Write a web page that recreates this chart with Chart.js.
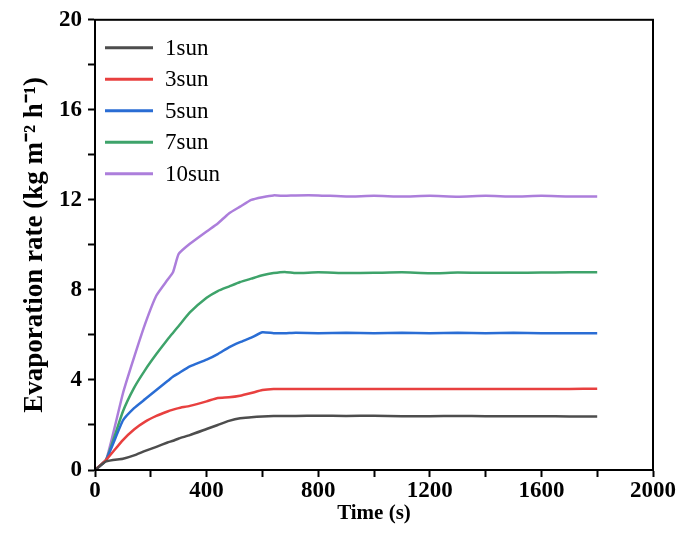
<!DOCTYPE html>
<html>
<head>
<meta charset="utf-8">
<script src="https://cdn.jsdelivr.net/npm/chart.js@4"></script>
<style>
  html, body { margin: 0; padding: 0; background: #fff; }
  #wrap { width: 684px; height: 547px; }
</style>
</head>
<body>
<div id="wrap"><canvas id="evapChart" width="684" height="547"></canvas></div>
<script>
// Time axis (s), shared by all curves
const times = [0, 40, 100, 140, 180, 220, 260, 280, 300, 340, 400, 440, 480, 520, 560, 600, 640, 680, 720,
               800, 900, 1000, 1100, 1200, 1300, 1400, 1500, 1600, 1700, 1800];

const sun1 = [0, 0.38, 0.5, 0.65, 0.85, 1.03, 1.22, 1.3, 1.4, 1.55, 1.82, 2.0, 2.18, 2.3, 2.34, 2.38, 2.4, 2.4, 2.4,
              2.41, 2.4, 2.41, 2.39, 2.39, 2.4, 2.39, 2.39, 2.39, 2.38, 2.38];
const sun3 = [0, 0.45, 1.33, 1.8, 2.15, 2.4, 2.6, 2.68, 2.75, 2.85, 3.05, 3.2, 3.23, 3.3, 3.42, 3.55, 3.6, 3.6, 3.6,
              3.6, 3.6, 3.6, 3.6, 3.6, 3.6, 3.6, 3.6, 3.6, 3.6, 3.61];
const sun5 = [0, 0.45, 2.2, 2.75, 3.15, 3.55, 3.95, 4.15, 4.3, 4.6, 4.9, 5.15, 5.45, 5.68, 5.88, 6.12, 6.08, 6.08, 6.1,
              6.08, 6.1, 6.08, 6.1, 6.08, 6.1, 6.08, 6.1, 6.08, 6.08, 6.08];
const sun7 = [0, 0.45, 2.6, 3.65, 4.45, 5.15, 5.8, 6.1, 6.4, 7.0, 7.65, 7.95, 8.15, 8.35, 8.5, 8.65, 8.75, 8.8, 8.75,
              8.78, 8.75, 8.76, 8.78, 8.74, 8.77, 8.76, 8.76, 8.77, 8.78, 8.78];
const sun10 = [0, 0.45, 3.4, 5.0, 6.5, 7.75, 8.45, 8.8, 9.6, 10.05, 10.6, 10.95, 11.4, 11.7, 12.0, 12.12, 12.2, 12.18, 12.2,
               12.2, 12.15, 12.18, 12.15, 12.18, 12.14, 12.18, 12.15, 12.18, 12.15, 12.15];

const seriesLabels = ['1sun', '3sun', '5sun', '7sun', '10sun'];
const seriesColors = ['#4d4d4d', '#e8403f', '#2a6dd4', '#3ea36a', '#ac7edb'];
const seriesValues = [sun1, sun3, sun5, sun7, sun10];

const xTicks = [0, 400, 800, 1200, 1600, 2000];
const yTicks = [0, 4, 8, 12, 16, 20];

const serif = "'Liberation Serif', 'Times New Roman', serif";

// box around the plot area
const frame = {
    id: 'frame',
    afterDraw(chart) {
        const a = chart.chartArea, ctx = chart.ctx;
        ctx.save();
        ctx.strokeStyle = '#000';
        ctx.lineWidth = 2;
        ctx.strokeRect(a.left, a.top, a.right - a.left, a.bottom - a.top);
        ctx.restore();
    }
};

// legend drawn inside the plot, top-left
const insideLegend = {
    id: 'insideLegend',
    afterDraw(chart) {
        const a = chart.chartArea, ctx = chart.ctx;
        ctx.save();
        ctx.font = '23px ' + serif;
        ctx.textBaseline = 'middle';
        chart.data.datasets.forEach((ds, i) => {
            const y = a.top + 28 + i * 31.5;
            const x0 = a.left + 10;
            ctx.strokeStyle = ds.borderColor;
            ctx.lineWidth = 3;
            ctx.beginPath();
            ctx.moveTo(x0, y);
            ctx.lineTo(x0 + 48, y);
            ctx.stroke();
            ctx.fillStyle = '#000';
            ctx.fillText(ds.label, x0 + 60, y + 1);
        });
        ctx.restore();
    }
};

new Chart(document.getElementById('evapChart'), {
    type: 'line',
    data: {
        datasets: seriesLabels.map((label, i) => ({
            label: label,
            data: times.map((t, j) => ({ x: t, y: seriesValues[i][j] })),
            borderColor: seriesColors[i],
            borderWidth: 2.5,
            pointRadius: 0,
            tension: 0.15,
            fill: false
        }))
    },
    options: {
        responsive: false,
        animation: false,
        layout: { padding: { top: 19, right: 31, left: 19, bottom: 21 } },
        plugins: {
            legend: { display: false },
            tooltip: { enabled: false }
        },
        scales: {
            x: {
                type: 'linear',
                min: 0,
                max: 2000,
                afterFit(scale) { scale.height = 56; },
                afterBuildTicks(scale) {
                    const t = [];
                    for (let v = 0; v <= 2000; v += 200) t.push({ value: v });
                    scale.ticks = t;
                },
                ticks: {
                    color: '#000',
                    padding: 0,
                    maxRotation: 0,
                    autoSkip: false,
                    font: { family: serif, size: 23, weight: 'bold' },
                    callback: v => xTicks.includes(v) ? String(v) : ''
                },
                grid: {
                    drawOnChartArea: false,
                    tickLength: 7,
                    tickColor: '#000',
                    tickWidth: 2
                },
                border: { color: '#000', width: 2 },
                title: {
                    display: true,
                    text: 'Time (s)',
                    color: '#000',
                    padding: { top: 0, bottom: 0 },
                    font: { family: serif, size: 21, weight: 'bold' }
                }
            },
            y: {
                min: 0,
                max: 20,
                afterFit(scale) { scale.width = 76; },
                afterBuildTicks(scale) {
                    const t = [];
                    for (let v = 0; v <= 20; v += 2) t.push({ value: v });
                    scale.ticks = t;
                },
                ticks: {
                    color: '#000',
                    padding: 6,
                    autoSkip: false,
                    font: { family: serif, size: 23, weight: 'bold' },
                    callback: v => yTicks.includes(v) ? String(v) : ''
                },
                grid: {
                    drawOnChartArea: false,
                    tickLength: 7,
                    tickColor: '#000',
                    tickWidth: 2
                },
                border: { color: '#000', width: 2 },
                title: {
                    display: true,
                    text: 'Evaporation rate (kg m\u207B\u00B2 h\u207B\u00B9)',
                    color: '#000',
                    padding: { top: 0, bottom: 0 },
                    font: { family: serif, size: 27, weight: 'bold' }
                }
            }
        }
    },
    plugins: [frame, insideLegend]
});
</script>
</body>
</html>
